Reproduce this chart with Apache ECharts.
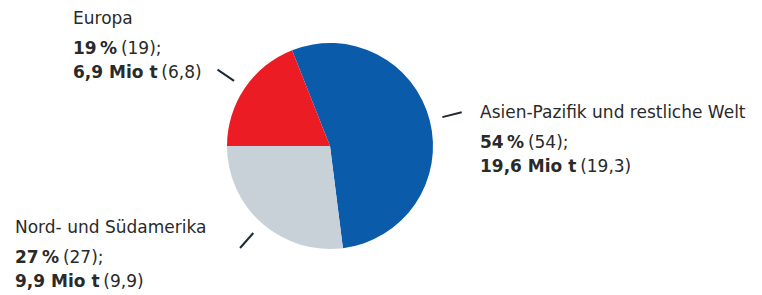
<!DOCTYPE html>
<html>
<head>
<meta charset="utf-8">
<style>
  html, body { margin: 0; padding: 0; background: #ffffff; }
  #chart { width: 762px; height: 295px; }
</style>
<script src="https://cdn.jsdelivr.net/npm/echarts@6/dist/echarts.min.js"></script>
</head>
<body>
<div id="chart"></div>
<script>
// ---- data ----
const regions = ['Asien-Pazifik und restliche Welt', 'Nord- und Südamerika', 'Europa'];
const sharePct = [54, 27, 19];
const sharePctPrev = [54, 27, 19];
const tonnes = ['19,6', '9,9', '6,9'];
const tonnesPrev = ['19,3', '9,9', '6,8'];

// ---- styles ----
const colors = ['#0a5baa', '#c9d1d8', '#ec1c24'];
const labelAnchors = [[480, 94], [15, 209], [73, 0]];
const cx = 330, cy = 146, R = 103;
const tickInner = 116, tickOuter = 136;
const FONT = 'DejaVu Sans';
const FS = 17;

const chart = echarts.init(document.getElementById('chart'), null, { renderer: 'svg' });

const data = regions.map((r, i) => ({
  name: r,
  value: sharePct[i],
  itemStyle: { color: colors[i] }
}));

// grey/red boundary lies at 9 o'clock (180 deg); blue starts after blue+grey turn clockwise
const startAngle = 180 + 360 * (sharePct[0] + sharePct[1]) / 100 - 360;

chart.setOption({
  animation: false,
  backgroundColor: '#ffffff',
  textStyle: { fontFamily: FONT },
  series: [{
    type: 'pie',
    center: [cx, cy],
    radius: [0, R],
    startAngle: startAngle,
    clockwise: true,
    avoidLabelOverlap: false,
    data: data,
    itemStyle: { borderWidth: 0 },
    emphasis: { disabled: true },
    label: {
      show: true,
      position: 'outside',
      color: '#2a2a2a',
      fontFamily: FONT,
      formatter: function (p) {
        const i = p.dataIndex;
        return '{name|' + regions[i] + '}\n' +
               '{b|' + sharePct[i] + '\u2009%} {n|(' + sharePctPrev[i] + ');}\n' +
               '{b|' + tonnes[i] + ' Mio t} {n|(' + tonnesPrev[i] + ')}';
      },
      rich: {
        name: { fontSize: FS, lineHeight: 36, color: '#2a2a2a', fontFamily: FONT },
        b: { fontSize: FS, lineHeight: 24, fontWeight: 'bold', color: '#2a2a2a', fontFamily: FONT },
        n: { fontSize: FS, lineHeight: 24, color: '#2a2a2a', fontFamily: FONT }
      }
    },
    labelLine: {
      show: true,
      length: 10,
      length2: 10,
      lineStyle: { color: '#1d2a36', width: 2 }
    },
    labelLayout: function (params) {
      const i = params.dataIndex;
      const pts = params.labelLinePoints;
      let dx = pts[0][0] - cx, dy = pts[0][1] - cy;
      const len = Math.sqrt(dx * dx + dy * dy) || 1;
      dx /= len; dy /= len;
      const a = [cx + dx * tickInner, cy + dy * tickInner];
      const b = [cx + dx * tickOuter, cy + dy * tickOuter];
      return {
        x: labelAnchors[i][0],
        y: labelAnchors[i][1],
        align: 'left',
        verticalAlign: 'top',
        labelLinePoints: [a, b, b]
      };
    }
  }]
});
</script>
</body>
</html>
